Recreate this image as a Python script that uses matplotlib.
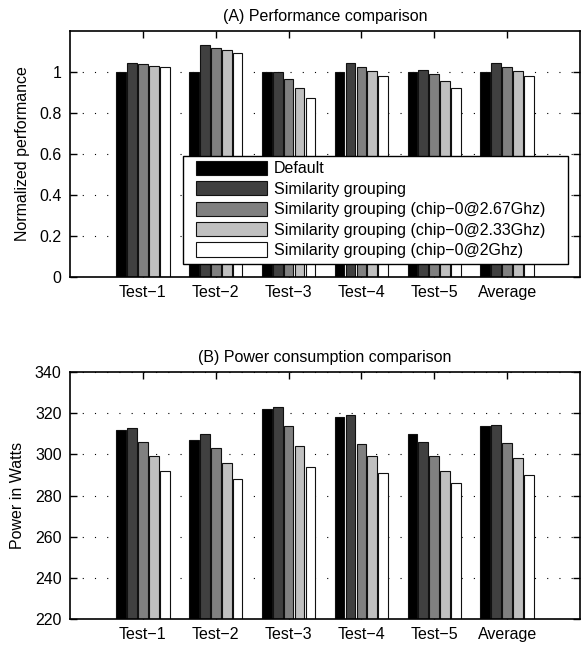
import matplotlib
matplotlib.use("Agg")
import matplotlib.pyplot as plt
from matplotlib.patches import Rectangle
import numpy as np

plt.rcParams['font.family'] = ['Liberation Sans', 'DejaVu Sans']

categories = ['Test\u22121', 'Test\u22122', 'Test\u22123', 'Test\u22124', 'Test\u22125', 'Average']
series_names = ['Default', 'Similarity grouping',
                'Similarity grouping (chip\u22120@2.67Ghz)',
                'Similarity grouping (chip\u22120@2.33Ghz)',
                'Similarity grouping (chip\u22120@2Ghz)']
colors = ['#000000', '#404040', '#808080', '#c0c0c0', '#ffffff']

perf_default = [1.0, 1.0, 1.0, 1.0, 1.0, 1.0]
perf_sg = [1.046, 1.130, 1.0, 1.042, 1.008, 1.046]
perf_267 = [1.041, 1.119, 0.964, 1.023, 0.989, 1.026]
perf_233 = [1.029, 1.106, 0.921, 1.007, 0.955, 1.003]
perf_2 = [1.024, 1.094, 0.873, 0.981, 0.924, 0.979]

pow_default = [312, 307, 322, 318, 310, 314]
pow_sg = [313, 310, 323, 319, 306, 314.3]
pow_267 = [306, 303, 314, 305, 299, 305.4]
pow_233 = [299, 296, 304, 299, 292, 298]
pow_2 = [292, 288, 294, 291, 286, 290]

perf = [perf_default, perf_sg, perf_267, perf_233, perf_2]
power = [pow_default, pow_sg, pow_267, pow_233, pow_2]

FS = 11.5

fig = plt.figure(figsize=(5.88, 6.45), dpi=100)
ax1 = fig.add_axes([70/588, 1-277/645, 510/588, 246/645])
ax2 = fig.add_axes([70/588, 1-619/645, 510/588, 247/645])

x = np.arange(1, len(categories)+1)
step = 0.15
w = 0.135
offsets = (np.arange(5) - 2) * step

def style(ax, yticks, ylim, title, ylabel, yticklabels=None):
    ax.set_xlim(0, 7)
    ax.set_ylim(*ylim)
    ax.set_xticks(x)
    ax.set_xticklabels(categories, fontsize=FS)
    ax.set_yticks(yticks)
    if yticklabels is not None:
        ax.set_yticklabels(yticklabels)
    ax.tick_params(axis='both', direction='in', length=5, width=1,
                   top=True, right=True, labelsize=FS, pad=6)
    ax.yaxis.grid(True, linestyle=(0, (1, 10)), linewidth=0.8, color='#000000')
    ax.set_axisbelow(True)
    for s in ax.spines.values():
        s.set_linewidth(1.2)
    ax.set_title(title, fontsize=FS, pad=7)
    ax.set_ylabel(ylabel, fontsize=FS, labelpad=7)

for i in range(5):
    ax1.bar(x + offsets[i], perf[i], width=w, color=colors[i],
            edgecolor='#111111', linewidth=0.8, label=series_names[i], zorder=2)
    ax2.bar(x + offsets[i], power[i], width=w, color=colors[i],
            edgecolor='#111111', linewidth=0.8, zorder=2)

style(ax1, [0, 0.2, 0.4, 0.6, 0.8, 1.0], (0, 1.2), '(A) Performance comparison',
      'Normalized performance', ['0', '0.2', '0.4', '0.6', '0.8', '1'])
style(ax2, [220, 240, 260, 280, 300, 320, 340], (220, 340), '(B) Power consumption comparison',
      'Power in Watts')

# legend content (frame drawn separately to mimic the wider horizontal padding)
leg = ax1.legend(loc='lower right', bbox_to_anchor=(544/588 + 0.002, 1-258/645),
                 bbox_transform=fig.transFigure, borderaxespad=0, borderpad=0,
                 fontsize=FS, frameon=False,
                 handlelength=4.4, handleheight=1.0, labelspacing=0.3,
                 handletextpad=0.45)
leg.set_zorder(6)
fig.canvas.draw()
bb = leg.get_window_extent()
frame = Rectangle((bb.x0 - 13, bb.y0 - 6), bb.width + 13 + 23, bb.height + 6 + 5,
                  transform=None, facecolor='white', edgecolor='black',
                  linewidth=1.0, zorder=5)
frame.set_clip_on(False)
ax1.add_artist(frame)

fig.savefig('out.png', dpi=100)
